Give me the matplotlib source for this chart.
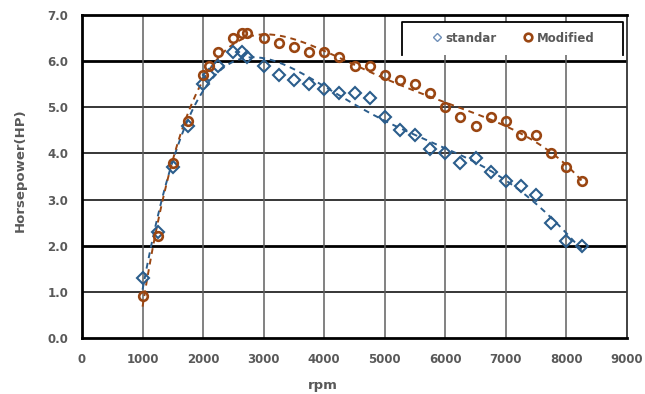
import numpy as np
import matplotlib
matplotlib.use("Agg")
import matplotlib.pyplot as plt
from matplotlib.lines import Line2D
from matplotlib.patches import Rectangle

rpm = [1000, 1250, 1500, 1750, 2000, 2100, 2250, 2500, 2650, 2730, 3000, 3250, 3500,
       3750, 4000, 4250, 4500, 4750, 5000, 5250, 5500, 5750, 6000, 6250, 6500, 6750,
       7000, 7250, 7500, 7750, 8000, 8250]
standar = [1.3, 2.3, 3.7, 4.6, 5.5, 5.7, 5.9, 6.2, 6.2, 6.1, 5.9, 5.7, 5.6,
           5.5, 5.4, 5.3, 5.3, 5.2, 4.8, 4.5, 4.4, 4.1, 4.0, 3.8, 3.9, 3.6,
           3.4, 3.3, 3.1, 2.5, 2.1, 2.0]
modified = [0.9, 2.2, 3.8, 4.7, 5.7, 5.9, 6.2, 6.5, 6.6, 6.6, 6.5, 6.4, 6.3,
            6.2, 6.2, 6.1, 5.9, 5.9, 5.7, 5.6, 5.5, 5.3, 5.0, 4.8, 4.6, 4.8,
            4.7, 4.4, 4.4, 4.0, 3.7, 3.4]
x_ticks = [0, 1000, 2000, 3000, 4000, 5000, 6000, 7000, 8000, 9000]
y_ticks = [0.0, 1.0, 2.0, 3.0, 4.0, 5.0, 6.0, 7.0]
series_names = ["standar", "Modified"]

blue = "#2B5D8C"
brown = "#9A4612"
gray_txt = "#595959"

W, H = 645, 394
L, R, T, B = 82, 627, 15, 338
fig = plt.figure(figsize=(W/100, H/100), dpi=100)
ax = fig.add_axes([L/W, 1-B/H, (R-L)/W, (B-T)/H])

def ax_x(px):
    return (px - L) / (R - L)

def ax_y(py):
    return (B - py) / (B - T)

ax.set_xlim(0, 9000)
ax.set_ylim(0, 7)
ax.set_xticks(x_ticks)
ax.set_yticks(y_ticks)
ax.set_yticklabels([f"{v:.1f}" for v in y_ticks])

# gridlines
for v in y_ticks[1:-1]:
    lw = 2.0 if v in (2.0, 6.0) else 1.1
    ax.axhline(v, color="black", lw=lw, zorder=1)
for v in x_ticks[1:-1]:
    ax.axvline(v, color="#5f5f5f", lw=1.1, zorder=1)

for s in ["left", "bottom", "top"]:
    ax.spines[s].set_linewidth(2.0)
    ax.spines[s].set_color("black")
ax.spines["right"].set_linewidth(1.3)
ax.spines["right"].set_color("#333333")

ax.tick_params(axis="y", length=0, pad=10, labelsize=8.5, labelcolor=gray_txt)
ax.tick_params(axis="x", length=0, pad=11, labelsize=8.5, labelcolor=gray_txt)
for lab in ax.get_xticklabels() + ax.get_yticklabels():
    lab.set_fontweight("bold")

ax.set_xlabel("rpm", fontsize=9.5, fontweight="bold", color=gray_txt)
ax.xaxis.label.set_va("center")
ax.xaxis.set_label_coords(ax_x(323), ax_y(385))
ax.set_ylabel("Horsepower(HP)", fontsize=9.5, fontweight="bold", color=gray_txt)
ax.yaxis.label.set_va("center")
ax.yaxis.set_label_coords(ax_x(20), ax_y(170))

x = np.array(rpm, dtype=float)
xs = np.linspace(min(rpm), max(rpm), 300)
for ys, col in ((standar, blue), (modified, brown)):
    c = np.polyfit(x / 1000, ys, 6)
    ax.plot(xs, np.polyval(c, xs / 1000), ls=(0, (3, 2.5)), color=col, lw=1.4, zorder=3)

ax.plot(rpm, standar, ls="none", marker="D", ms=5.8, mfc="none", mec=blue, mew=1.5, zorder=4)
ax.plot(rpm, modified, ls="none", marker="o", ms=6.2, mfc="none", mec=brown, mew=1.9, zorder=4)

# legend box: white background, outline on left, top and right
bx0, bx1, by0, by1 = ax_x(402), ax_x(623), ax_y(55), ax_y(22)
ax.add_patch(Rectangle((bx0, by0), bx1 - bx0, by1 - by0, transform=ax.transAxes,
                       facecolor="white", edgecolor="none", zorder=5))
ax.plot([bx0, bx0, bx1, bx1], [by0, by1, by1, by0], transform=ax.transAxes,
        color="black", lw=1.3, zorder=6, clip_on=False)

handles = [Line2D([], [], ls="none", marker="D", ms=4.0, mfc="none", mec="#6F8FB8", mew=1.0),
           Line2D([], [], ls="none", marker="o", ms=5.5, mfc="none", mec=brown, mew=1.9)]
leg = ax.legend(handles, series_names, loc="center left", bbox_to_anchor=(ax_x(432), ax_y(38)),
                ncol=2, frameon=False, handlelength=0.8, handletextpad=0.3,
                columnspacing=2.3, borderpad=0, borderaxespad=0,
                prop={"size": 8.5, "weight": "bold"})
for t in leg.get_texts():
    t.set_color(gray_txt)
leg.set_zorder(7)

fig.savefig("out.png", dpi=100)
